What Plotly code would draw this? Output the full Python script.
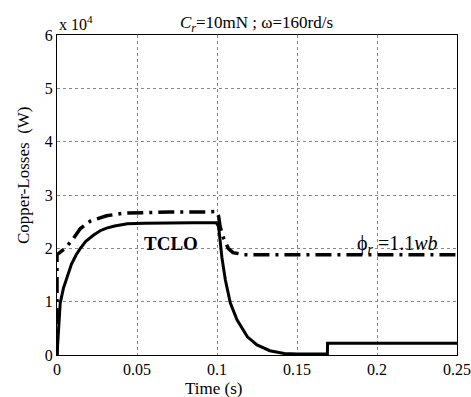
import plotly.graph_objects as go

# Copper losses in units of 10^4 W
t_tclo = [0, 0.001, 0.002, 0.004, 0.00625, 0.009, 0.012, 0.0146, 0.018, 0.0229, 0.027,
          0.031, 0.036, 0.044, 0.055, 0.07, 0.085, 0.0995, 0.101, 0.1031, 0.1052, 0.1083,
          0.1125, 0.119, 0.125, 0.133, 0.142, 0.15, 0.16, 0.169, 0.1691, 0.18, 0.2, 0.25]
p_tclo = [0, 0.55, 0.97, 1.25, 1.47, 1.7, 1.88, 2.0, 2.13, 2.25, 2.33,
          2.38, 2.42, 2.46, 2.47, 2.48, 2.48, 2.48, 2.41, 1.82, 1.41, 0.98,
          0.66, 0.34, 0.19, 0.08, 0.03, 0.02, 0.02, 0.02, 0.22, 0.22, 0.22, 0.22]

t_ref = [0, 0, 0.003, 0.0065, 0.0104, 0.0146, 0.0208, 0.031, 0.0416, 0.052, 0.07, 0.09,
         0.0995, 0.101, 0.102, 0.104, 0.107, 0.110, 0.117, 0.13, 0.15, 0.2, 0.25]
p_ref = [0, 1.88, 1.95, 2.05, 2.19, 2.37, 2.51, 2.61, 2.66, 2.67, 2.68, 2.68,
         2.69, 2.6, 2.4, 2.2, 2.0, 1.92, 1.88, 1.88, 1.88, 1.88, 1.88]

x_ticks = [0, 0.05, 0.1, 0.15, 0.2, 0.25]
x_tick_text = ["0", "0.05", "0.1", "0.15", "0.2", "0.25"]
y_ticks = [0, 1, 2, 3, 4, 5, 6]

FONT = "Liberation Serif, Times New Roman, serif"

fig = go.Figure()
fig.add_trace(go.Scatter(x=t_ref, y=p_ref, mode="lines",
                         line=dict(color="black", width=3.5, dash="16px,6px,3px,6px"),
                         showlegend=False))
fig.add_trace(go.Scatter(x=t_tclo, y=p_tclo, mode="lines",
                         line=dict(color="black", width=3),
                         showlegend=False))

axis_common = dict(showline=True, linecolor="black", linewidth=1, mirror=True,
                   showgrid=True, gridcolor="#888888", griddash="dot", gridwidth=1,
                   zeroline=False, ticks="", automargin=False,
                   tickfont=dict(family=FONT, size=16, color="black"))

fig.update_xaxes(range=[0, 0.25], tickvals=x_ticks, ticktext=x_tick_text, **axis_common)
fig.update_yaxes(range=[0, 6], tickvals=y_ticks, **axis_common)

W, H = 471, 397
L, R, T, B = 57, 14, 35, 42

def px(xp, yp):
    return (xp - L) / (W - L - R), (H - B - yp) / (H - T - B)

ax, ay = px(213, 388)
fig.add_annotation(x=ax, y=ay, xref="paper", yref="paper", text="Time (s)", showarrow=False,
                   xanchor="center", yanchor="middle",
                   font=dict(family=FONT, size=17, color="black"))
ax, ay = px(23, 175)
fig.add_annotation(x=ax, y=ay, xref="paper", yref="paper", text="Copper-Losses  (W)",
                   textangle=-90, showarrow=False, xanchor="center", yanchor="middle",
                   font=dict(family=FONT, size=17, color="black"))
fig.add_annotation(x=0, y=1, xref="paper", yref="paper", xanchor="left", yanchor="bottom",
                   text="x 10<sup>4</sup>", showarrow=False,
                   font=dict(family=FONT, size=16, color="black"))
ax, ay = px(256, 24)
fig.add_annotation(x=ax, y=ay, xref="paper", yref="paper", xanchor="center", yanchor="middle",
                   text="<i>C<sub>r</sub></i>=10mN ; ω=160rd/s", showarrow=False,
                   font=dict(family=FONT, size=17, color="black"))
fig.add_annotation(x=0.0714, y=2.1, text="<b>TCLO</b>", showarrow=False,
                   font=dict(family=FONT, size=19, color="black"))
fig.add_annotation(x=0.213, y=2.08, text="ϕ<sub><i>r</i></sub> =1.1<i>wb</i>", showarrow=False,
                   font=dict(family=FONT, size=20, color="black"))

fig.update_layout(width=W, height=H, margin=dict(l=L, r=R, t=T, b=B),
                  plot_bgcolor="white", paper_bgcolor="white",
                  font=dict(family=FONT, color="black"))

fig.write_html("out.html")
